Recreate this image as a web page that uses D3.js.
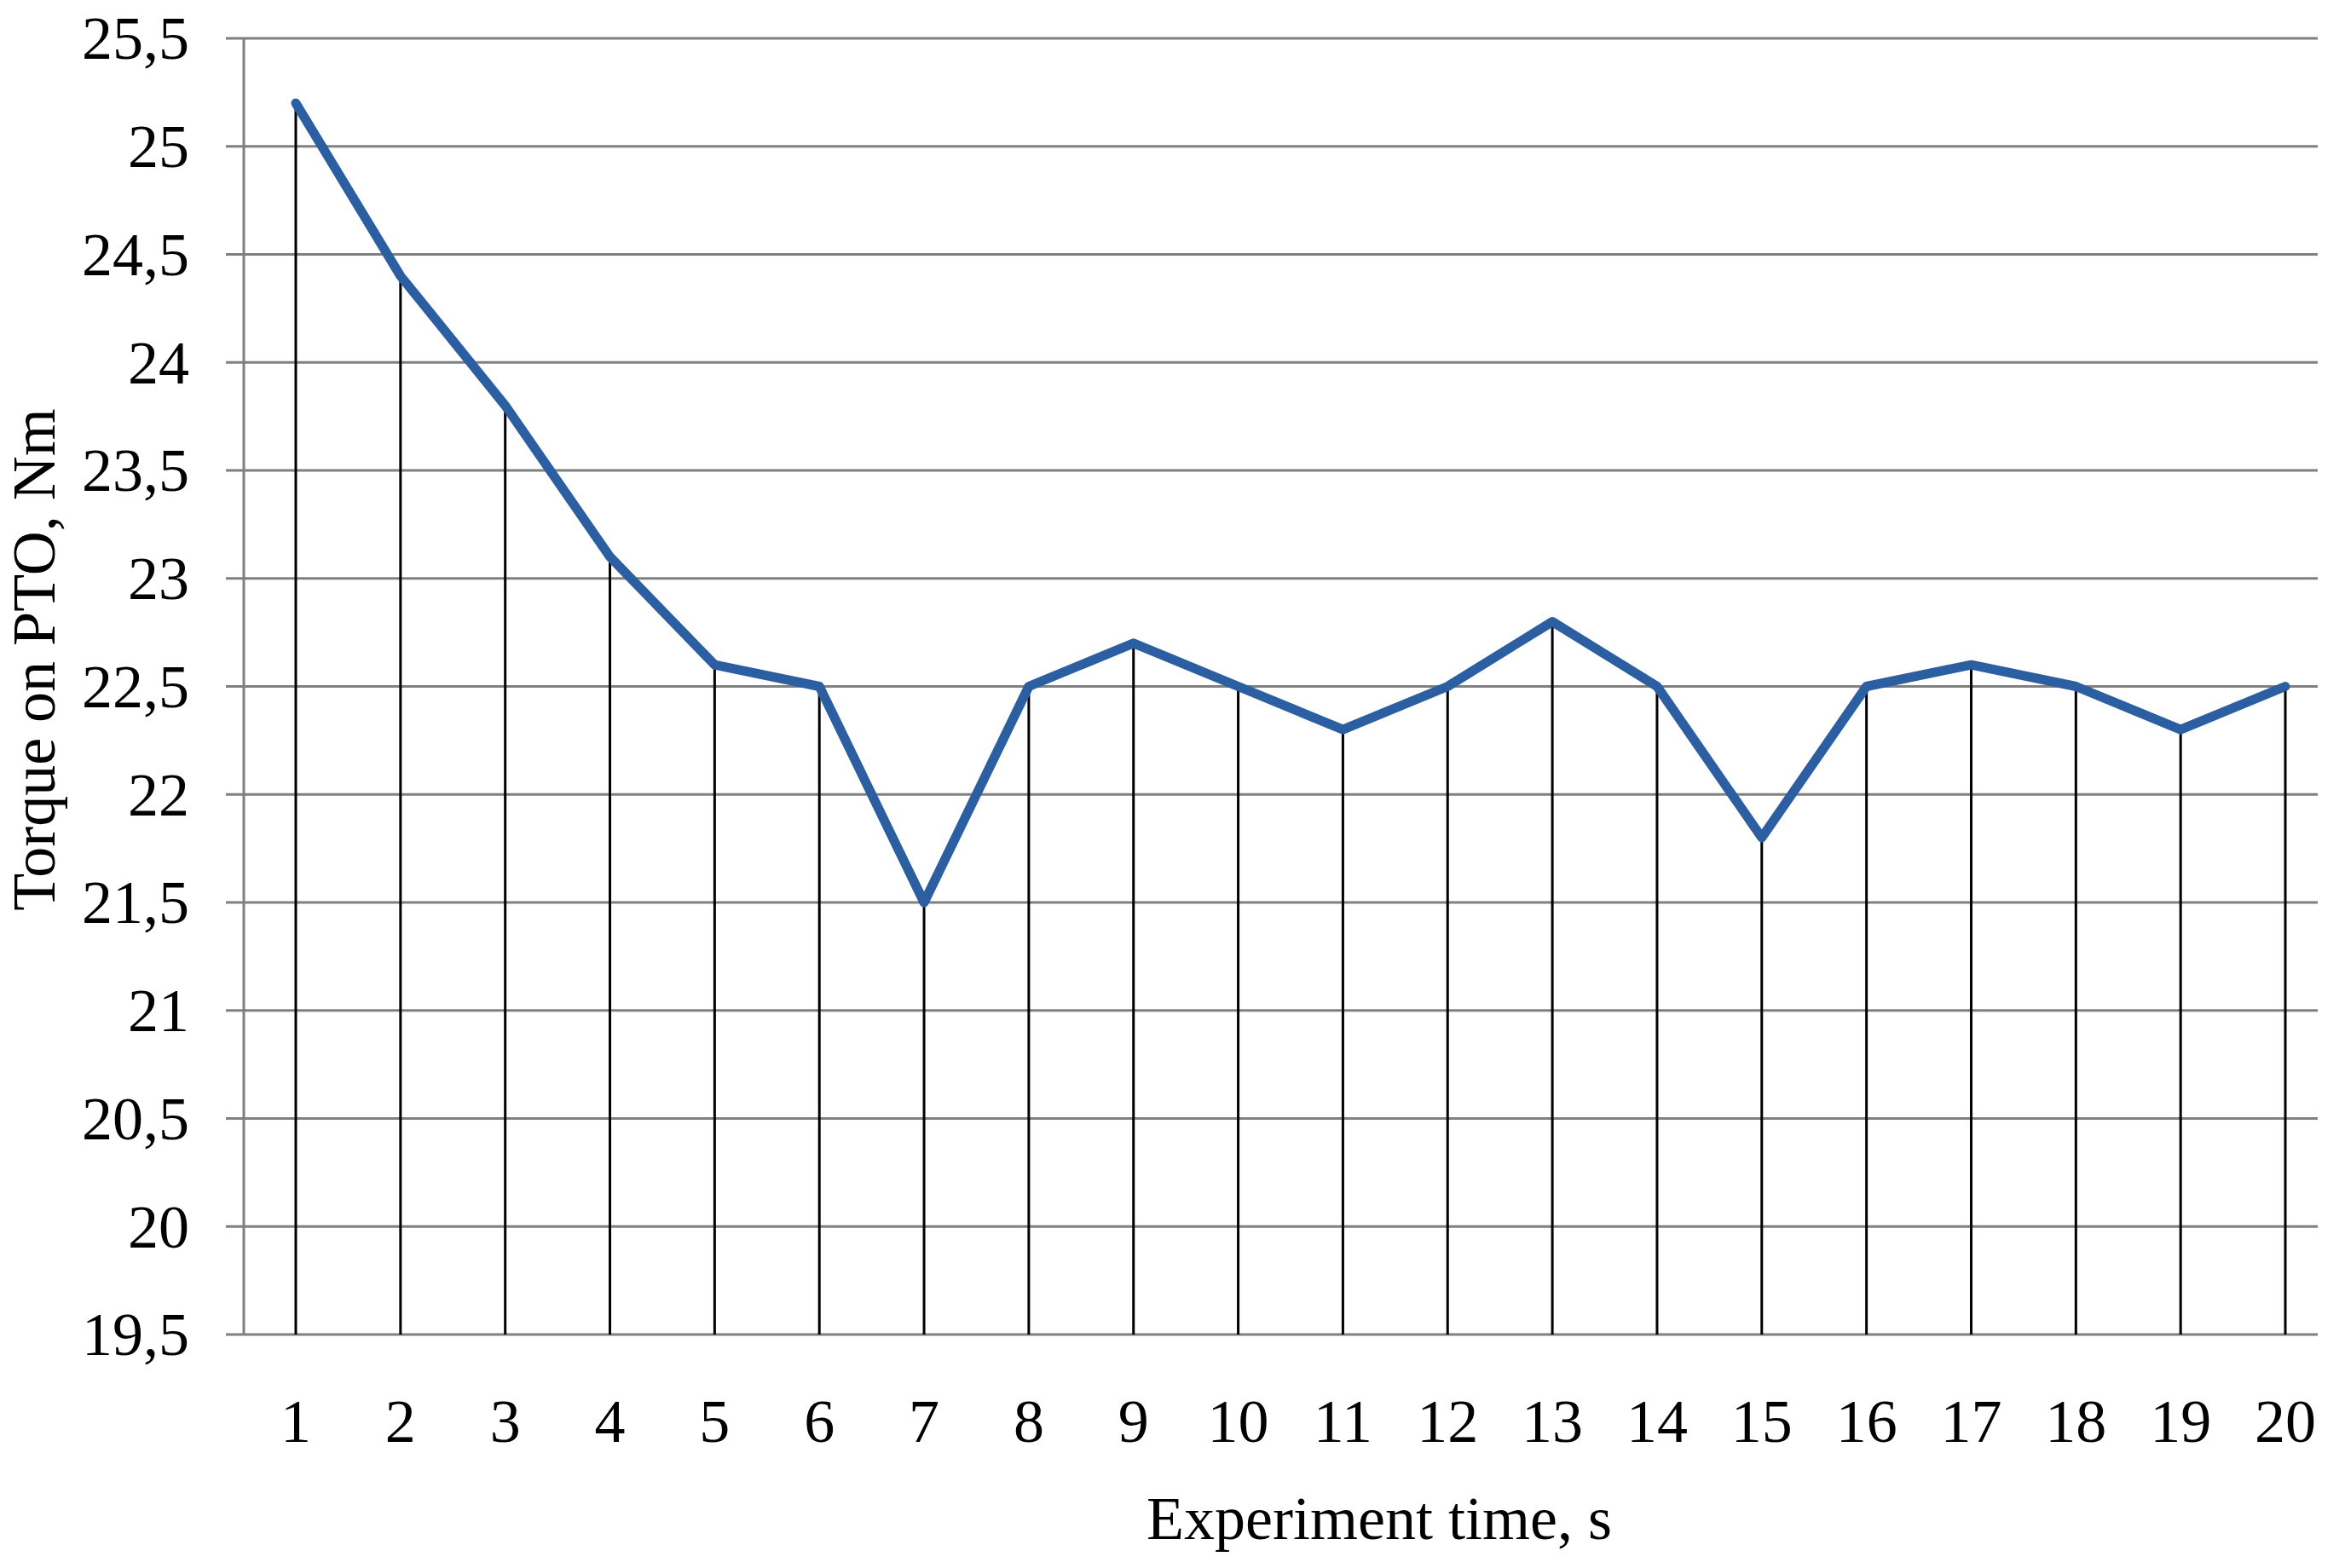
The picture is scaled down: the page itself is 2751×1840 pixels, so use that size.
<!DOCTYPE html>
<html>
<head>
<meta charset="utf-8">
<script src="https://cdn.jsdelivr.net/npm/d3@7"></script>
<style>
  body { margin: 0; background: #fff; }
  text { font-family: 'Liberation Serif', 'Times New Roman', serif; fill: #000; }
</style>
</head>
<body>
<div id="chart"></div>
<script>
// data
const seconds = [1, 2, 3, 4, 5, 6, 7, 8, 9, 10, 11, 12, 13, 14, 15, 16, 17, 18, 19, 20];
const torque = [25.2, 24.4, 23.8, 23.1, 22.6, 22.5, 21.5, 22.5, 22.7, 22.5,
  22.3, 22.5, 22.8, 22.5, 21.8, 22.5, 22.6, 22.5, 22.3, 22.5];
const yTicks = [19.5, 20, 20.5, 21, 21.5, 22, 22.5, 23, 23.5, 24, 24.5, 25, 25.5];
const xTitle = 'Experiment time, s';
const yTitle = 'Torque on PTO, Nm';

const W = 2751, H = 1840;
const plot = { left: 286, right: 2719, top: 45, bottom: 1566 };

const data = seconds.map((s, i) => ({ s: s, v: torque[i] }));

const x = d3.scalePoint()
  .domain(seconds)
  .range([347, 2681]);

const y = d3.scaleLinear()
  .domain([19.5, 25.5])
  .range([plot.bottom, plot.top]);

// decimal comma, as in the original
const fmt = (d) => String(d).replace('.', ',');

const svg = d3.select('#chart')
  .append('svg')
  .attr('width', W)
  .attr('height', H)
  .attr('viewBox', [0, 0, W, H]);

// horizontal grid (extends left as tick marks)
svg.append('g')
  .attr('class', 'grid')
  .selectAll('line')
  .data(yTicks)
  .join('line')
  .attr('x1', 265)
  .attr('x2', plot.right)
  .attr('y1', (d) => y(d))
  .attr('y2', (d) => y(d))
  .attr('stroke', '#808080')
  .attr('stroke-width', 3);

// y axis line
svg.append('line')
  .attr('x1', plot.left)
  .attr('x2', plot.left)
  .attr('y1', plot.top)
  .attr('y2', plot.bottom)
  .attr('stroke', '#808080')
  .attr('stroke-width', 3);

// drop lines
svg.append('g')
  .attr('class', 'drops')
  .selectAll('line')
  .data(data)
  .join('line')
  .attr('x1', (d) => x(d.s))
  .attr('x2', (d) => x(d.s))
  .attr('y1', (d) => y(d.v))
  .attr('y2', plot.bottom)
  .attr('stroke', '#000')
  .attr('stroke-width', 3);

// series
svg.append('path')
  .datum(data)
  .attr('fill', 'none')
  .attr('stroke', '#2c5ea2')
  .attr('stroke-width', 11)
  .attr('stroke-linejoin', 'round')
  .attr('stroke-linecap', 'round')
  .attr('d', d3.line().x((d) => x(d.s)).y((d) => y(d.v)));

// y tick labels
svg.append('g')
  .attr('class', 'y-labels')
  .selectAll('text')
  .data(yTicks)
  .join('text')
  .attr('x', 222)
  .attr('y', (d) => y(d))
  .attr('dy', '0.34em')
  .attr('text-anchor', 'end')
  .attr('font-size', 72)
  .text(fmt);

// x tick labels
svg.append('g')
  .attr('class', 'x-labels')
  .selectAll('text')
  .data(seconds)
  .join('text')
  .attr('x', (d) => x(d))
  .attr('y', 1692)
  .attr('text-anchor', 'middle')
  .attr('font-size', 72)
  .text((d) => d);

// axis titles
svg.append('text')
  .attr('x', 1618)
  .attr('y', 1806)
  .attr('text-anchor', 'middle')
  .attr('font-size', 72)
  .text(xTitle);

svg.append('text')
  .attr('transform', 'translate(64,774) rotate(-90)')
  .attr('text-anchor', 'middle')
  .attr('font-size', 72)
  .text(yTitle);
</script>
</body>
</html>
